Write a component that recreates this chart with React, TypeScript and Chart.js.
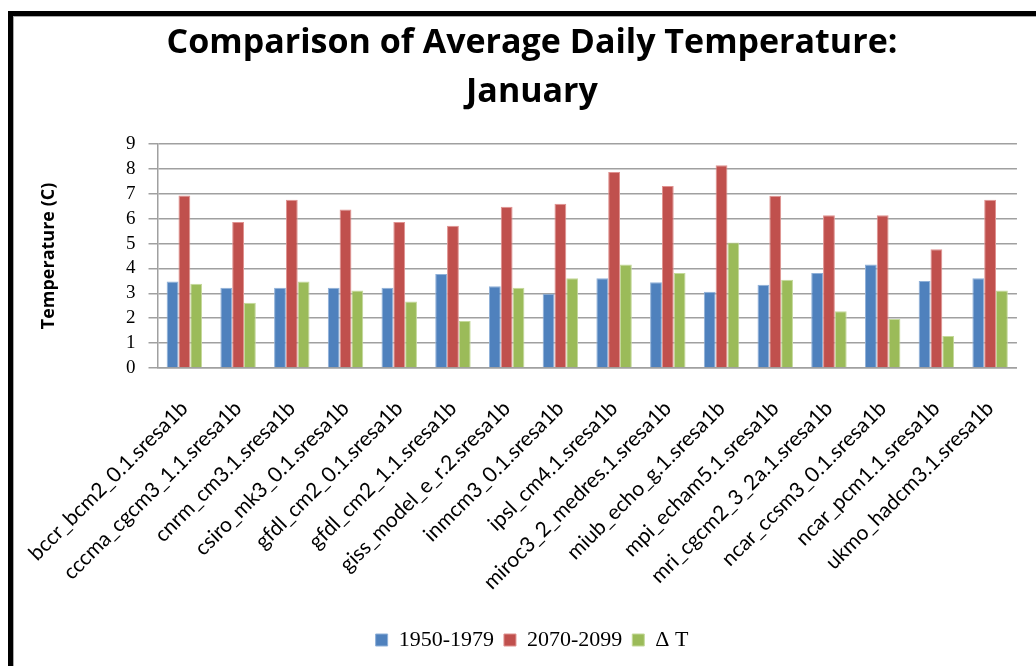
import React, { useEffect, useRef } from "react";
import { Chart, registerables } from "chart.js";

Chart.register(...registerables);

const categories = [
  "bccr_bcm2_0.1.sresa1b",
  "cccma_cgcm3_1.1.sresa1b",
  "cnrm_cm3.1.sresa1b",
  "csiro_mk3_0.1.sresa1b",
  "gfdl_cm2_0.1.sresa1b",
  "gfdl_cm2_1.1.sresa1b",
  "giss_model_e_r.2.sresa1b",
  "inmcm3_0.1.sresa1b",
  "ipsl_cm4.1.sresa1b",
  "miroc3_2_medres.1.sresa1b",
  "miub_echo_g.1.sresa1b",
  "mpi_echam5.1.sresa1b",
  "mri_cgcm2_3_2a.1.sresa1b",
  "ncar_ccsm3_0.1.sresa1b",
  "ncar_pcm1.1.sresa1b",
  "ukmo_hadcm3.1.sresa1b",
];

const seriesNames = ["1950-1979", "2070-2099", "\u0394 T"];

const values1950 = [3.48, 3.22, 3.22, 3.22, 3.22, 3.78, 3.28, 2.98, 3.61, 3.44, 3.06, 3.34, 3.82, 4.16, 3.5, 3.61];
const values2070 = [6.93, 5.87, 6.76, 6.37, 5.87, 5.71, 6.48, 6.6, 7.87, 7.31, 8.15, 6.92, 6.14, 6.14, 4.77, 6.76];
const valuesDelta = [3.38, 2.62, 3.48, 3.11, 2.67, 1.89, 3.22, 3.61, 4.16, 3.82, 5.04, 3.55, 2.28, 1.97, 1.29, 3.11];

const titleLines = ["Comparison of Average Daily Temperature:", "January"];
const yAxisTitle = "Temperature (C)";

export default function App() {
  const canvasRef = useRef<HTMLCanvasElement | null>(null);

  useEffect(() => {
    if (!canvasRef.current) return;
    const chart = new Chart(canvasRef.current, {
      type: "bar",
      data: {
        labels: categories,
        datasets: [
          { label: seriesNames[0], data: values1950, backgroundColor: "#4F81BD", borderColor: "#8fb0d8", borderWidth: 1 },
          { label: seriesNames[1], data: values2070, backgroundColor: "#C0504D", borderColor: "#e09290", borderWidth: 1 },
          { label: seriesNames[2], data: valuesDelta, backgroundColor: "#9BBB59", borderColor: "#c4d99a", borderWidth: 1 },
        ],
      },
      options: {
        responsive: false,
        animation: false,
        layout: { padding: { top: 0, left: 33, right: 5, bottom: 5 } },
        datasets: { bar: { categoryPercentage: 0.66, barPercentage: 1.0 } },
        plugins: {
          tooltip: { enabled: false },
          title: {
            display: true,
            text: titleLines,
            color: "#000",
            font: { family: "Open Sans", size: 34, weight: "bold", lineHeight: 1.46 },
            padding: { top: 18, bottom: 26.7 },
          },
          legend: {
            position: "bottom",
            labels: {
              color: "#000",
              boxWidth: 12,
              boxHeight: 12,
              padding: 10,
              font: { family: "Liberation Serif", size: 22 },
            },
          },
        },
        scales: {
          x: {
            grid: { display: false, drawTicks: false },
            border: { display: true, color: "#a0a0a0", width: 1.5 },
            ticks: {
              color: "#000",
              autoSkip: false,
              minRotation: 45,
              maxRotation: 45,
              padding: 28,
              font: { family: "Lato", size: 21 },
            },
            afterFit: (scale: any) => {
              scale.height = 251;
            },
          },
          y: {
            min: 0,
            max: 9,
            ticks: {
              stepSize: 1,
              autoSkip: false,
              color: "#000",
              padding: 13,
              font: { family: "Liberation Serif", size: 19 },
            },
            grid: { color: "#a0a0a0", lineWidth: 1.5, tickLength: 9 },
            border: { display: true, color: "#a0a0a0", width: 1.5 },
            title: {
              display: true,
              text: yAxisTitle,
              color: "#000",
              font: { family: "Open Sans", size: 18, weight: "bold" },
              padding: { top: 3, bottom: 0 },
            },
            afterFit: (scale: any) => {
              scale.width = 122;
            },
          },
        },
      },
    });
    return () => chart.destroy();
  }, []);

  return (
    <div style={{ position: "fixed", left: 0, top: 0, width: 1036, height: 666, overflow: "hidden", background: "#fff" }}>
      <div
        style={{
          position: "absolute",
          left: 8,
          top: 11,
          width: 2000,
          height: 2000,
          borderTop: "5px solid #000",
          borderLeft: "5px solid #000",
          boxSizing: "border-box",
        }}
      >
        <div style={{ position: "absolute", left: 0, top: 0, right: 0, bottom: 0, borderTop: "1px solid #aaa", borderLeft: "1px solid #aaa" }} />
      </div>
      <canvas ref={canvasRef} width={1036} height={666} style={{ position: "absolute", left: 0, top: 0 }} />
    </div>
  );
}
